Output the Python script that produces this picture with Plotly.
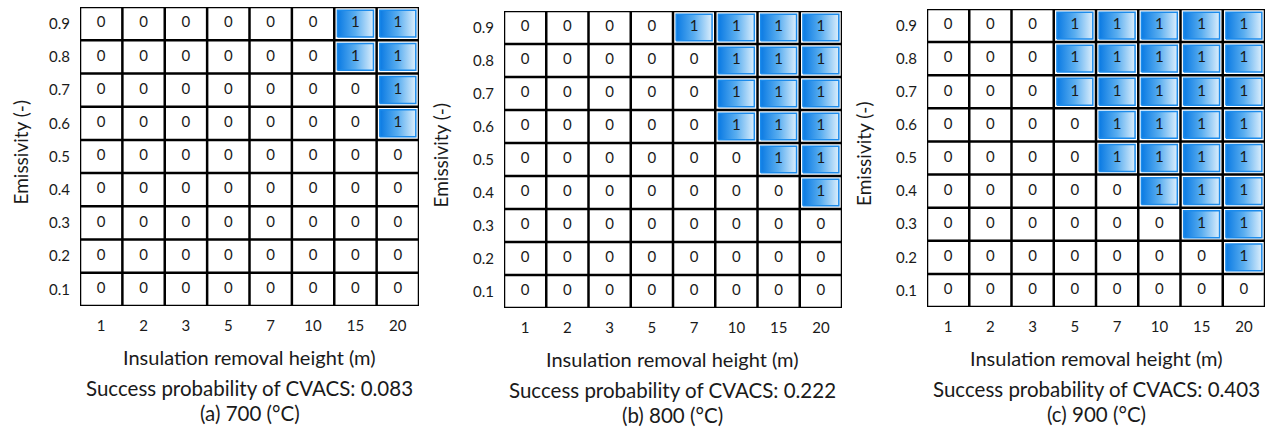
import plotly.graph_objects as go

# ---------------- data ----------------
heights = ["1", "2", "3", "5", "7", "10", "15", "20"]
emissivity = ["0.1", "0.2", "0.3", "0.4", "0.5", "0.6", "0.7", "0.8", "0.9"]

# rows ordered from emissivity 0.1 (bottom) to 0.9 (top)
success_700 = [
    [0, 0, 0, 0, 0, 0, 0, 0],
    [0, 0, 0, 0, 0, 0, 0, 0],
    [0, 0, 0, 0, 0, 0, 0, 0],
    [0, 0, 0, 0, 0, 0, 0, 0],
    [0, 0, 0, 0, 0, 0, 0, 0],
    [0, 0, 0, 0, 0, 0, 0, 1],
    [0, 0, 0, 0, 0, 0, 0, 1],
    [0, 0, 0, 0, 0, 0, 1, 1],
    [0, 0, 0, 0, 0, 0, 1, 1],
]
success_800 = [
    [0, 0, 0, 0, 0, 0, 0, 0],
    [0, 0, 0, 0, 0, 0, 0, 0],
    [0, 0, 0, 0, 0, 0, 0, 0],
    [0, 0, 0, 0, 0, 0, 0, 1],
    [0, 0, 0, 0, 0, 0, 1, 1],
    [0, 0, 0, 0, 0, 1, 1, 1],
    [0, 0, 0, 0, 0, 1, 1, 1],
    [0, 0, 0, 0, 0, 1, 1, 1],
    [0, 0, 0, 0, 1, 1, 1, 1],
]
success_900 = [
    [0, 0, 0, 0, 0, 0, 0, 0],
    [0, 0, 0, 0, 0, 0, 0, 1],
    [0, 0, 0, 0, 0, 0, 1, 1],
    [0, 0, 0, 0, 0, 1, 1, 1],
    [0, 0, 0, 0, 1, 1, 1, 1],
    [0, 0, 0, 0, 1, 1, 1, 1],
    [0, 0, 0, 1, 1, 1, 1, 1],
    [0, 0, 0, 1, 1, 1, 1, 1],
    [0, 0, 0, 1, 1, 1, 1, 1],
]
panel_letters = ["a", "b", "c"]
temperatures = [700, 800, 900]
matrices = [success_700, success_800, success_900]

# ---------------- layout geometry (pixels) ----------------
W, H = 1277, 427
FONT = "Lato, Carlito, Calibri, 'Noto Sans', sans-serif"
TXT = "#1a1a1a"
panels_px = [  # left, right, top, bottom of the grid
    (80, 419, 7, 306),
    (504, 842, 11, 308),
    (927, 1265, 9, 307),
]
ytitle_x = [20, 440, 864]

fig = go.Figure()
layout_axes = {}
annotations = []
shapes = []

ncol, nrow = len(heights), len(emissivity)
ix = list(range(ncol))
iy = list(range(nrow))
dx, dy = 0.075, 0.095

for k, (mat, letter, temp) in enumerate(zip(matrices, panel_letters, temperatures)):
    L, R, T, B = panels_px[k]
    xa = "x" if k == 0 else f"x{k+1}"
    ya = "y" if k == 0 else f"y{k+1}"
    xkey = "xaxis" if k == 0 else f"xaxis{k+1}"
    ykey = "yaxis" if k == 0 else f"yaxis{k+1}"

    # blue gradient cells
    for r in iy:
        for c in ix:
            if mat[r][c] == 1:
                x0, x1 = c - 0.5 + dx, c + 0.5 - dx
                y0, y1 = r - 0.5 + dy, r + 0.5 - dy
                fig.add_trace(go.Scatter(
                    x=[x0, x1, x1, x0, x0], y=[y0, y0, y1, y1, y0],
                    mode="lines", fill="toself",
                    fillgradient=dict(type="horizontal",
                                      colorscale=[[0, "#0A7AE3"], [0.5, "#5AAEF0"], [1, "#DCEEFC"]]),
                    line=dict(color="#1C8BEB", width=1.5),
                    hoverinfo="skip", showlegend=False,
                    xaxis=xa, yaxis=ya,
                ))

    # cell values as text
    tx, ty, tt = [], [], []
    for r in iy:
        for c in ix:
            tx.append(c)
            ty.append(r)
            tt.append(str(mat[r][c]))
    fig.add_trace(go.Scatter(
        x=tx, y=ty, text=tt, mode="text",
        textfont=dict(family=FONT, size=15, color=TXT),
        hoverinfo="skip", showlegend=False, xaxis=xa, yaxis=ya,
    ))

    # grid lines
    for c in range(ncol + 1):
        shapes.append(dict(type="line", xref=xa, yref=ya, x0=c - 0.5, x1=c - 0.5,
                           y0=-0.5, y1=nrow - 0.5, line=dict(color="black", width=2.5),
                           layer="above"))
    for r in range(nrow + 1):
        shapes.append(dict(type="line", xref=xa, yref=ya, x0=-0.5, x1=ncol - 0.5,
                           y0=r - 0.5, y1=r - 0.5, line=dict(color="black", width=2.5),
                           layer="above"))

    layout_axes[xkey] = dict(
        domain=[L / W, R / W], range=[-0.5, ncol - 0.5], anchor=ya,
        tickvals=ix, ticktext=heights, showgrid=False, zeroline=False,
        showline=False, ticks="", ticklabelstandoff=9,
        tickfont=dict(family=FONT, size=15, color=TXT), fixedrange=True,
    )
    layout_axes[ykey] = dict(
        domain=[1 - B / H, 1 - T / H], range=[-0.5, nrow - 0.5], anchor=xa,
        tickvals=iy, ticktext=emissivity, showgrid=False, zeroline=False,
        showline=False, ticks="", ticklabelstandoff=9,
        tickfont=dict(family=FONT, size=15, color=TXT), fixedrange=True,
    )

    cx = (L + R) / 2 / W
    prob = sum(sum(row) for row in mat) / (ncol * nrow)
    annotations.append(dict(text="Insulation removal height (m)", x=cx, y=1 - (B + 51) / H,
                            xref="paper", yref="paper", showarrow=False,
                            xanchor="center", yanchor="middle",
                            font=dict(family=FONT, size=20, color=TXT)))
    annotations.append(dict(text=f"Success probability of CVACS: {prob:.3f}", x=cx,
                            y=1 - (B + 82) / H, xref="paper", yref="paper", showarrow=False,
                            xanchor="center", yanchor="middle",
                            font=dict(family=FONT, size=20.5, color=TXT)))
    annotations.append(dict(text=f"({letter}) {temp} (°C)", x=cx, y=1 - (B + 107) / H,
                            xref="paper", yref="paper", showarrow=False,
                            xanchor="center", yanchor="middle",
                            font=dict(family=FONT, size=20.5, color=TXT)))
    annotations.append(dict(text="Emissivity (-)", x=ytitle_x[k] / W, y=1 - ((T + B) / 2 - 4) / H,
                            xref="paper", yref="paper", showarrow=False, textangle=-90,
                            xanchor="center", yanchor="middle",
                            font=dict(family=FONT, size=19, color=TXT)))

fig.update_layout(
    width=W, height=H, margin=dict(l=0, r=0, t=0, b=0),
    paper_bgcolor="white", plot_bgcolor="white",
    annotations=annotations, shapes=shapes, showlegend=False,
    **layout_axes,
)
fig.write_html("out.html", config={"displayModeBar": False})
